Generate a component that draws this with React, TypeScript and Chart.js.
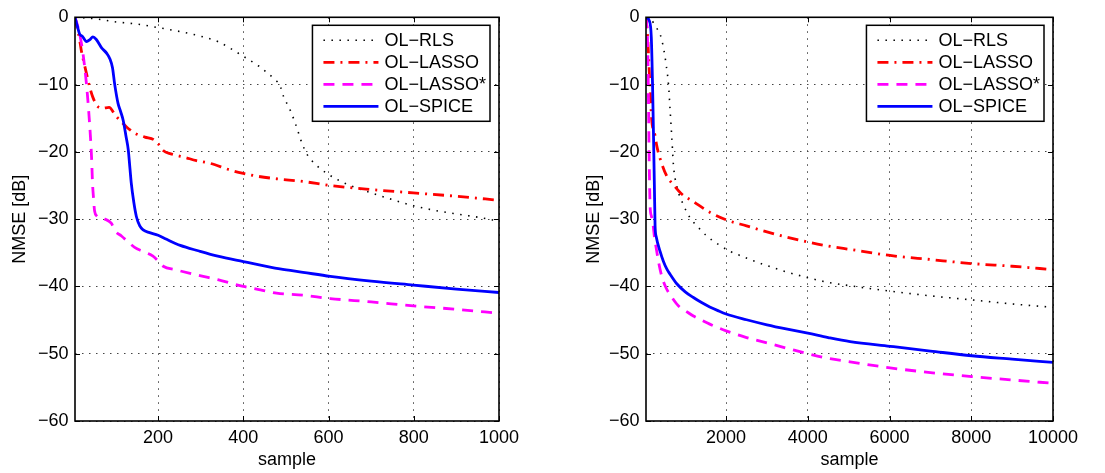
import React, { useEffect, useRef } from "react";
import { Chart, registerables } from "chart.js";

Chart.register(...registerables);

// ---------- data ----------
const seriesLabels = ["OL−RLS", "OL−LASSO", "OL−LASSO*", "OL−SPICE"];
const yTickValues = [0, -10, -20, -30, -40, -50, -60];
const leftXTicks = [200, 400, 600, 800, 1000];
const rightXTicks = [2000, 4000, 6000, 8000, 10000];
const xTitle = "sample";
const yTitle = "NMSE [dB]";

// left panel (1000 samples)
const leftRlsX = [5, 50, 103, 150, 197, 250, 299, 340, 369, 400, 435, 455, 475, 486, 494, 510, 525, 537, 549, 570, 596, 643, 700, 750, 799, 850, 908, 950, 1000];
const leftRlsY = [0, -0.2, -0.7, -1.0, -1.5, -2.1, -2.8, -3.6, -4.6, -5.8, -7.2, -8.2, -9.3, -10.1, -11.7, -13.8, -16.3, -18.6, -20.3, -21.9, -23.2, -24.8, -26.1, -27.1, -28.0, -28.7, -29.3, -29.7, -30.3];

const leftLassoX = [5, 10, 15, 20, 27, 34, 40, 47, 59, 70, 85, 100, 115, 126, 145, 169, 190, 200, 212, 230, 262, 290, 322, 369, 400, 431, 478, 540, 604, 700, 799, 900, 1000];
const leftLassoY = [0, -1.5, -3.0, -5.0, -7.0, -8.9, -10.5, -11.9, -13.3, -13.5, -13.4, -14.6, -15.6, -16.3, -17.2, -17.8, -18.2, -18.8, -19.8, -20.3, -20.8, -21.3, -21.7, -22.7, -23.2, -23.6, -24.0, -24.4, -25.0, -25.6, -26.1, -26.6, -27.2];

const leftLassoStarX = [5, 10, 16, 24, 32, 37, 41, 44, 46, 48, 51, 56, 63, 75, 90, 100, 114, 130, 145, 165, 188, 200, 212, 240, 298, 340, 400, 440, 478, 540, 604, 700, 799, 900, 1000];
const leftLassoStarY = [0, -1.0, -2.5, -5.5, -10.0, -13.8, -17.5, -21.0, -24.5, -26.5, -28.8, -29.5, -29.8, -30.0, -30.6, -31.8, -32.5, -33.4, -34.2, -34.8, -35.5, -36.2, -37.0, -37.5, -38.4, -39.0, -40.0, -40.5, -41.0, -41.3, -41.8, -42.3, -42.9, -43.4, -44.0];

const leftSpiceX = [5, 10, 16, 22, 32, 40, 47, 55, 67, 80, 87, 93, 98, 106, 112, 118, 125, 130, 134, 137, 143, 149, 157, 165, 180, 200, 220, 252, 294, 340, 400, 486, 540, 604, 700, 799, 900, 1000];
const leftSpiceY = [0, -1.2, -2.5, -2.8, -3.6, -3.3, -2.9, -3.3, -4.5, -5.4, -6.2, -7.5, -9.9, -12.8, -14.0, -15.3, -17.8, -19.7, -22.5, -24.6, -27.5, -29.6, -31.0, -31.6, -32.0, -32.4, -33.0, -33.9, -34.7, -35.5, -36.3, -37.4, -37.9, -38.5, -39.2, -39.8, -40.4, -40.9];

// right panel (10000 samples)
const rightRlsX = [40, 130, 223, 300, 385, 467, 532, 589, 630, 671, 712, 793, 957, 1119, 1300, 1528, 1800, 2100, 2426, 2670, 3000, 3400, 4000, 4500, 5034, 6012, 7000, 8012, 9000, 10000];
const rightRlsY = [0, -0.2, -0.8, -1.6, -2.5, -4.5, -7.0, -9.9, -13.8, -17.8, -22.0, -25.1, -27.9, -29.8, -31.1, -32.5, -33.7, -34.8, -35.6, -36.2, -36.9, -37.7, -38.7, -39.4, -39.9, -40.7, -41.4, -42.0, -42.6, -43.1];

const rightLassoX = [40, 80, 120, 150, 180, 220, 263, 300, 385, 548, 712, 900, 1201, 1608, 2000, 2500, 3000, 3500, 4000, 4500, 5034, 6012, 7000, 8012, 9000, 10000];
const rightLassoY = [0, -3, -8, -12, -15.3, -16.8, -17.6, -19.0, -21.0, -23.6, -24.9, -26.2, -27.4, -29.0, -30.1, -31.0, -31.9, -32.7, -33.4, -34.0, -34.5, -35.4, -36.0, -36.6, -37.0, -37.5];

const rightLassoStarX = [40, 80, 100, 120, 140, 170, 206, 250, 304, 345, 426, 530, 671, 850, 1000, 1200, 1400, 1600, 2000, 2500, 3000, 3500, 4000, 4500, 5034, 6012, 7000, 8012, 9000, 10000];
const rightLassoStarY = [0, -4, -12, -22, -28.0, -29.5, -30.5, -32.8, -34.8, -36.3, -38.5, -40.2, -41.6, -43.0, -43.6, -44.4, -45.0, -45.6, -46.6, -47.6, -48.4, -49.2, -50.0, -50.7, -51.2, -52.1, -52.8, -53.4, -53.9, -54.4];

const rightSpiceX = [40, 120, 170, 200, 225, 245, 262, 290, 385, 467, 548, 630, 793, 1000, 1200, 1400, 1600, 1800, 2000, 2500, 3000, 3500, 4000, 4500, 5034, 6012, 7000, 8012, 9000, 10000];
const rightSpiceY = [0, -0.5, -3.0, -10, -18, -25, -31.0, -32.6, -34.8, -36.3, -37.4, -38.2, -39.6, -40.8, -41.65, -42.4, -43.05, -43.6, -44.1, -44.95, -45.7, -46.35, -46.95, -47.6, -48.2, -48.9, -49.6, -50.3, -50.8, -51.3];

// ---------- styles ----------
const FONT = '"Liberation Sans", Arial, Helvetica, sans-serif';
const FONT_SIZE = 18;
const seriesStyles = [
  { color: "#000000", width: 1.6, dash: [1.5, 6.5] },
  { color: "#ff0000", width: 2.8, dash: [11, 6, 2, 6] },
  { color: "#ff00ff", width: 2.8, dash: [11, 8] },
  { color: "#0000ff", width: 2.8, dash: [] as number[] },
];

const matlabFrame = {
  id: "matlabFrame",
  afterDatasetsDraw(chart: any) {
    const { ctx, chartArea: a, scales } = chart;
    ctx.save();
    ctx.strokeStyle = "#000";
    ctx.lineWidth = 1;
    ctx.setLineDash([]);
    const tl = 5;
    ctx.beginPath();
    scales.x.ticks.forEach((t: any) => {
      const px = Math.round(scales.x.getPixelForValue(t.value)) + 0.5;
      ctx.moveTo(px, a.bottom);
      ctx.lineTo(px, a.bottom - tl);
      ctx.moveTo(px, a.top);
      ctx.lineTo(px, a.top + tl);
    });
    scales.y.ticks.forEach((t: any) => {
      const py = Math.round(scales.y.getPixelForValue(t.value)) + 0.5;
      ctx.moveTo(a.left, py);
      ctx.lineTo(a.left + tl, py);
      ctx.moveTo(a.right, py);
      ctx.lineTo(a.right - tl, py);
    });
    ctx.stroke();
    ctx.lineWidth = 1.6;
    ctx.strokeRect(a.left, a.top, a.right - a.left, a.bottom - a.top);

    // legend (inside, top-right)
    const ds = chart.data.datasets;
    ctx.font = `${FONT_SIZE}px ${FONT}`;
    let maxW = 0;
    ds.forEach((d: any) => {
      maxW = Math.max(maxW, ctx.measureText(d.label).width);
    });
    const padL = 11, lineLen = 55, gap = 6, padR = 4, rowH = 22, firstRow = 15;
    const w = padL + lineLen + gap + maxW + padR;
    const h = firstRow * 2 + rowH * (ds.length - 1);
    const bx = a.right - 9 - w;
    const by = a.top + 8;
    ctx.fillStyle = "#fff";
    ctx.fillRect(bx, by, w, h);
    ctx.strokeStyle = "#000";
    ctx.lineWidth = 1.5;
    ctx.strokeRect(bx, by, w, h);
    ds.forEach((d: any, i: number) => {
      const cy = by + firstRow + i * rowH;
      ctx.beginPath();
      ctx.strokeStyle = d.borderColor;
      ctx.lineWidth = d.borderWidth;
      ctx.setLineDash(d.borderDash || []);
      ctx.moveTo(bx + padL, cy);
      ctx.lineTo(bx + padL + lineLen, cy);
      ctx.stroke();
      ctx.setLineDash([]);
      ctx.fillStyle = "#000";
      ctx.textAlign = "left";
      ctx.textBaseline = "middle";
      ctx.fillText(d.label, bx + padL + lineLen + gap, cy + 1);
    });
    ctx.restore();
  },
};

type PanelProps = {
  xs: number[][];
  ys: number[][];
  xMin: number;
  xMax: number;
  xTicks: number[];
  canvasLeft: number;
  canvasWidth: number;
  plotLeft: number;
  plotRight: number;
  yTitlePad: number;
};

const CANVAS_H = 473;
const PLOT_TOP = 14;
const PLOT_BOTTOM = 421;

function Panel(p: PanelProps) {
  const ref = useRef<HTMLCanvasElement | null>(null);
  useEffect(() => {
    if (!ref.current) return;
    const font = { family: FONT, size: FONT_SIZE };
    const chart = new Chart(ref.current, {
      type: "line",
      data: {
        datasets: seriesLabels.map((label, i) => ({
          label,
          data: p.xs[i].map((x, j) => ({ x, y: p.ys[i][j] })),
          borderColor: seriesStyles[i].color,
          backgroundColor: seriesStyles[i].color,
          borderWidth: seriesStyles[i].width,
          borderDash: seriesStyles[i].dash,
          borderCapStyle: "butt",
          borderJoinStyle: "round",
          cubicInterpolationMode: "monotone",
          pointRadius: 0,
          fill: false,
          order: 3 - i,
        })),
      },
      options: {
        responsive: false,
        animation: false,
        events: [],
        layout: {
          padding: { left: 0, top: PLOT_TOP, right: p.canvasWidth - p.plotRight, bottom: 0 },
        },
        plugins: { legend: { display: false }, tooltip: { enabled: false } },
        scales: {
          x: {
            type: "linear",
            min: p.xMin,
            max: p.xMax,
            afterBuildTicks: (s: any) => {
              s.ticks = p.xTicks.map((v) => ({ value: v }));
            },
            afterFit: (s: any) => {
              s.height = CANVAS_H - PLOT_BOTTOM;
            },
            ticks: {
              color: "#000",
              font,
              padding: 6,
              maxRotation: 0,
              autoSkip: false,
              callback: (v: any) => String(v),
            },
            grid: { color: "#444", lineWidth: 1, drawTicks: false, borderDash: [1.5, 5.5] } as any,
            border: { display: false, dash: [1.5, 5.5] },
            title: { display: true, text: xTitle, color: "#000", font, padding: { top: 0, bottom: 2 } },
          },
          y: {
            type: "linear",
            min: -60,
            max: 0,
            afterBuildTicks: (s: any) => {
              s.ticks = yTickValues.map((v) => ({ value: v }));
            },
            afterFit: (s: any) => {
              s.width = p.plotLeft;
            },
            ticks: {
              color: "#000",
              font,
              padding: 6.5,
              callback: (v: any) => (Number(v) < 0 ? "−" + Math.abs(Number(v)) : String(v)),
            },
            grid: { color: "#444", lineWidth: 1, drawTicks: false, borderDash: [1.5, 5.5] } as any,
            border: { display: false, dash: [1.5, 5.5] },
            title: { display: true, text: yTitle, color: "#000", font, padding: { top: p.yTitlePad, bottom: 0 } },
          },
        },
      } as any,
      plugins: [matlabFrame],
    });
    return () => chart.destroy();
  }, []);
  return (
    <canvas
      ref={ref}
      width={p.canvasWidth}
      height={CANVAS_H}
      style={{
        position: "absolute",
        left: p.canvasLeft,
        top: 0,
        width: p.canvasWidth,
        height: CANVAS_H,
        display: "block",
      }}
    />
  );
}

export default function App() {
  return (
    <div
      style={{
        position: "fixed",
        left: 0,
        top: 0,
        width: 1105,
        height: 473,
        background: "#fff",
        overflow: "hidden",
      }}
    >
      <Panel
        xs={[leftRlsX, leftLassoX, leftLassoStarX, leftSpiceX]}
        ys={[leftRlsY, leftLassoY, leftLassoStarY, leftSpiceY]}
        xMin={5}
        xMax={1000}
        xTicks={leftXTicks}
        canvasLeft={0}
        canvasWidth={552}
        plotLeft={75}
        plotRight={499}
        yTitlePad={9}
      />
      <Panel
        xs={[rightRlsX, rightLassoX, rightLassoStarX, rightSpiceX]}
        ys={[rightRlsY, rightLassoY, rightLassoStarY, rightSpiceY]}
        xMin={40}
        xMax={10000}
        xTicks={rightXTicks}
        canvasLeft={552}
        canvasWidth={553}
        plotLeft={94}
        plotRight={501}
        yTitlePad={31}
      />
    </div>
  );
}
